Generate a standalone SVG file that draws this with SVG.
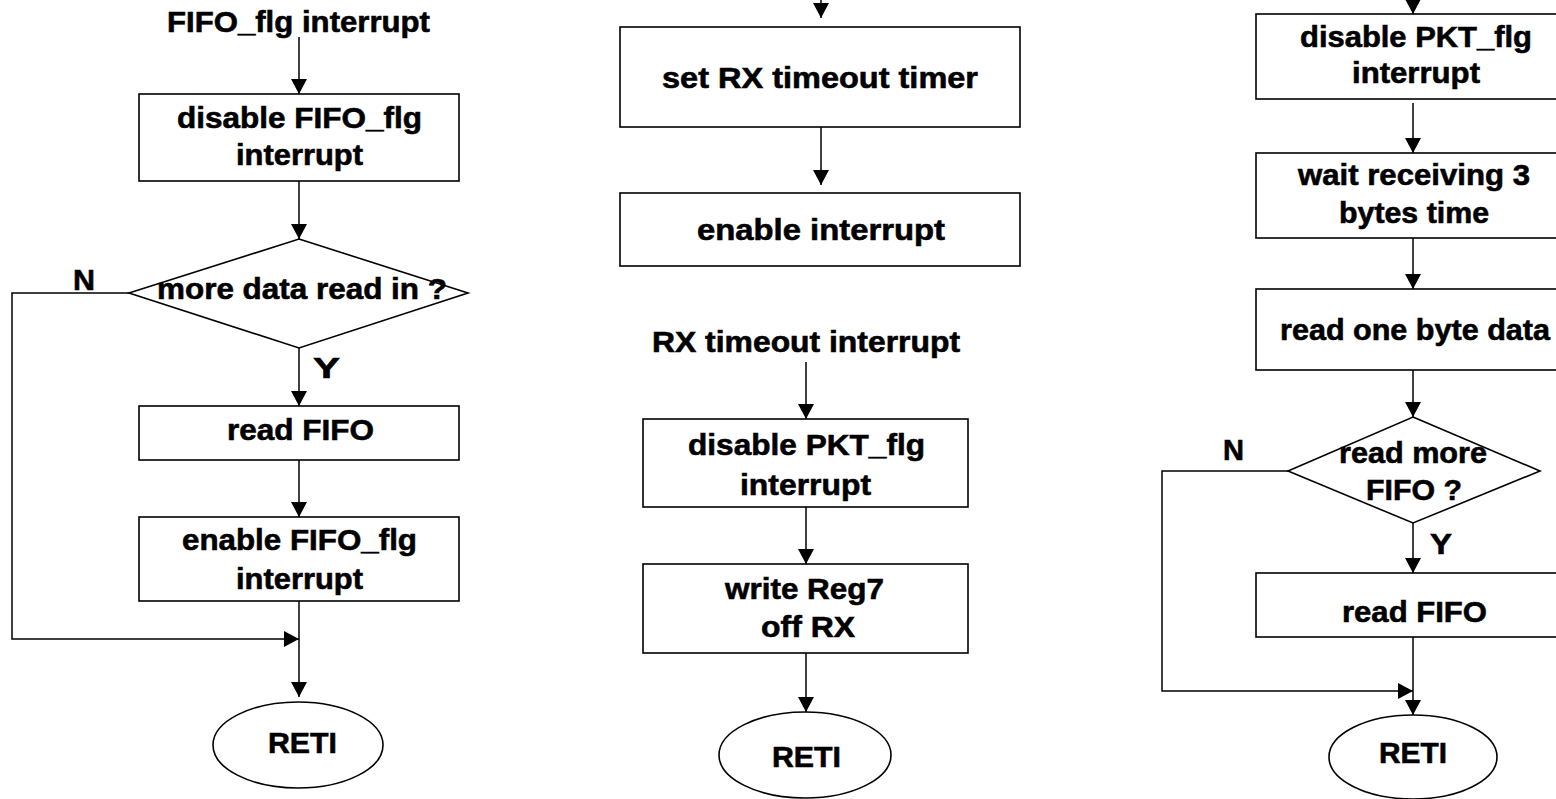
<svg xmlns="http://www.w3.org/2000/svg" width="1556" height="799" viewBox="0 0 1556 799">
<style>
.n{fill:#fff;stroke:#000;stroke-width:1.6}
.t{font-family:"Liberation Sans",Arial,sans-serif;font-weight:bold;font-size:30px;fill:#000;stroke:#000;stroke-width:0.6}
.c{fill:none;stroke:#000;stroke-width:1.5}
</style>
<defs>
<marker id="ah" markerUnits="userSpaceOnUse" markerWidth="16" markerHeight="16" refX="15" refY="8" orient="auto">
<path d="M0,0 L15,8 L0,16 z" fill="#000"/>
</marker>
</defs>
<rect width="1556" height="799" fill="#fff"/>
<g id="connectors">
<path class="c" d="M299,37 L299,94" marker-end="url(#ah)"/>
<path class="c" d="M299,181 L299,239" marker-end="url(#ah)"/>
<path class="c" d="M299,348 L299,406" marker-end="url(#ah)"/>
<path class="c" d="M299,460 L299,517" marker-end="url(#ah)"/>
<path class="c" d="M299,601 L299,697" marker-end="url(#ah)"/>
<path class="c" d="M129,293 L12,293 L12,639 L299,639" marker-end="url(#ah)"/>
<path class="c" d="M821,0 L821,18" marker-end="url(#ah)"/>
<path class="c" d="M821,127 L821,185" marker-end="url(#ah)"/>
<path class="c" d="M806,362 L806,419" marker-end="url(#ah)"/>
<path class="c" d="M806,507 L806,564" marker-end="url(#ah)"/>
<path class="c" d="M806,653 L806,712" marker-end="url(#ah)"/>
<path class="c" d="M1413,0 L1413,14" marker-end="url(#ah)"/>
<path class="c" d="M1413,103 L1413,153" marker-end="url(#ah)"/>
<path class="c" d="M1413,238 L1413,289" marker-end="url(#ah)"/>
<path class="c" d="M1413,370 L1413,417" marker-end="url(#ah)"/>
<path class="c" d="M1413,523 L1413,573" marker-end="url(#ah)"/>
<path class="c" d="M1413,637 L1413,715" marker-end="url(#ah)"/>
<path class="c" d="M1288,471 L1162,471 L1162,691 L1413,691" marker-end="url(#ah)"/>
</g>
<g id="fifo-title"><text class="t" x="167" y="32" textLength="263" lengthAdjust="spacingAndGlyphs">FIFO_flg interrupt</text></g>
<g id="fifo-disable">
<rect class="n" x="139" y="94" width="320" height="87"/>
<text class="t" x="177" y="128" textLength="245" lengthAdjust="spacingAndGlyphs">disable FIFO_flg</text>
<text class="t" x="236" y="165" textLength="127" lengthAdjust="spacingAndGlyphs">interrupt</text>
</g>
<g id="fifo-decision">
<polygon class="n" points="299,239 468,293 299,348 129,293"/>
<text class="t" x="157" y="299" textLength="290" lengthAdjust="spacingAndGlyphs">more data read in ?</text>
<text class="t" x="73" y="290" textLength="22" lengthAdjust="spacingAndGlyphs">N</text>
<text class="t" x="313" y="378" textLength="27" lengthAdjust="spacingAndGlyphs">Y</text>
</g>
<g id="fifo-read">
<rect class="n" x="139" y="406" width="320" height="54"/>
<text class="t" x="227" y="440" textLength="147" lengthAdjust="spacingAndGlyphs">read FIFO</text>
</g>
<g id="fifo-enable">
<rect class="n" x="139" y="517" width="320" height="84"/>
<text class="t" x="182" y="550" textLength="235" lengthAdjust="spacingAndGlyphs">enable FIFO_flg</text>
<text class="t" x="236" y="589" textLength="127" lengthAdjust="spacingAndGlyphs">interrupt</text>
</g>
<g id="fifo-reti">
<ellipse class="n" cx="298" cy="745" rx="85" ry="43"/>
<text class="t" x="268" y="753" textLength="69" lengthAdjust="spacingAndGlyphs">RETI</text>
</g>
<g id="set-timer">
<rect class="n" x="620" y="27" width="400" height="100"/>
<text class="t" x="662" y="88" textLength="316" lengthAdjust="spacingAndGlyphs">set RX timeout timer</text>
</g>
<g id="enable-int">
<rect class="n" x="620" y="193" width="400" height="73"/>
<text class="t" x="697" y="240" textLength="248" lengthAdjust="spacingAndGlyphs">enable interrupt</text>
</g>
<g id="rx-title"><text class="t" x="652" y="352" textLength="308" lengthAdjust="spacingAndGlyphs">RX timeout interrupt</text></g>
<g id="rx-disable">
<rect class="n" x="643" y="419" width="325" height="88"/>
<text class="t" x="688" y="455" textLength="237" lengthAdjust="spacingAndGlyphs">disable PKT_flg</text>
<text class="t" x="740" y="495" textLength="131" lengthAdjust="spacingAndGlyphs">interrupt</text>
</g>
<g id="rx-write">
<rect class="n" x="643" y="564" width="325" height="89"/>
<text class="t" x="725" y="599" textLength="159" lengthAdjust="spacingAndGlyphs">write Reg7</text>
<text class="t" x="761" y="637" textLength="94" lengthAdjust="spacingAndGlyphs">off RX</text>
</g>
<g id="rx-reti">
<ellipse class="n" cx="805" cy="755" rx="86" ry="43"/>
<text class="t" x="772" y="767" textLength="69" lengthAdjust="spacingAndGlyphs">RETI</text>
</g>
<g id="pkt-disable">
<rect class="n" x="1256" y="14" width="320" height="85"/>
<text class="t" x="1300" y="47" textLength="232" lengthAdjust="spacingAndGlyphs">disable PKT_flg</text>
<text class="t" x="1352" y="83" textLength="128" lengthAdjust="spacingAndGlyphs">interrupt</text>
</g>
<g id="pkt-wait">
<rect class="n" x="1256" y="153" width="320" height="85"/>
<text class="t" x="1298" y="185" textLength="232" lengthAdjust="spacingAndGlyphs">wait receiving 3</text>
<text class="t" x="1339" y="223" textLength="150" lengthAdjust="spacingAndGlyphs">bytes time</text>
</g>
<g id="pkt-readbyte">
<rect class="n" x="1256" y="289" width="320" height="81"/>
<text class="t" x="1280" y="340" textLength="270" lengthAdjust="spacingAndGlyphs">read one byte data</text>
</g>
<g id="pkt-decision">
<polygon class="n" points="1413,417 1540,471 1413,523 1288,471"/>
<text class="t" x="1339" y="463" textLength="148" lengthAdjust="spacingAndGlyphs">read more</text>
<text class="t" x="1366" y="500" textLength="96" lengthAdjust="spacingAndGlyphs">FIFO ?</text>
<text class="t" x="1223" y="460" textLength="21" lengthAdjust="spacingAndGlyphs">N</text>
<text class="t" x="1430" y="554" textLength="22" lengthAdjust="spacingAndGlyphs">Y</text>
</g>
<g id="pkt-readfifo">
<rect class="n" x="1256" y="573" width="320" height="64"/>
<text class="t" x="1342" y="622" textLength="145" lengthAdjust="spacingAndGlyphs">read FIFO</text>
</g>
<g id="pkt-reti">
<ellipse class="n" cx="1413" cy="757" rx="84" ry="42"/>
<text class="t" x="1379" y="763" textLength="68" lengthAdjust="spacingAndGlyphs">RETI</text>
</g>
</svg>
